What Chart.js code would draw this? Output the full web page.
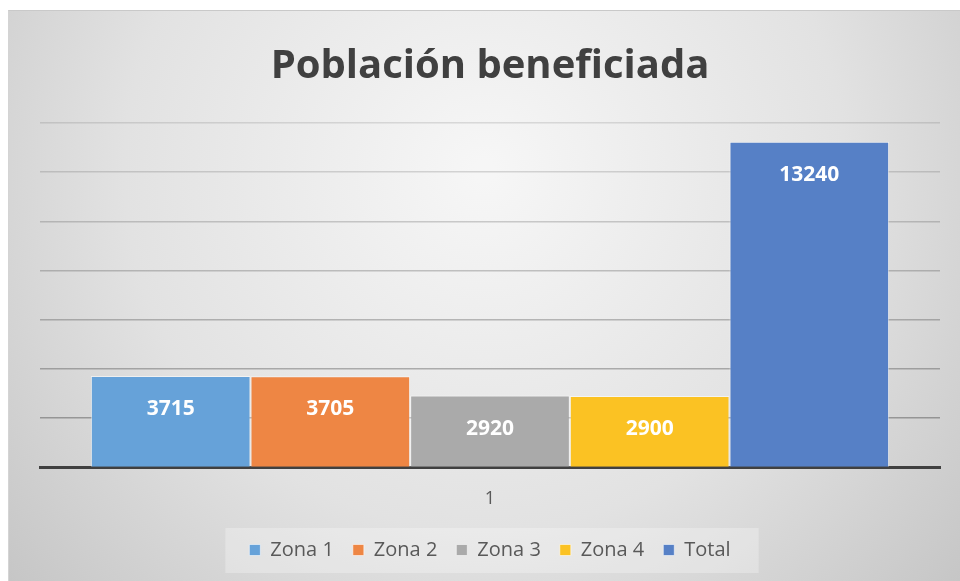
<!DOCTYPE html>
<html>
<head>
<meta charset="utf-8">
<script src="https://cdn.jsdelivr.net/npm/chart.js@4/dist/chart.umd.min.js"></script>
<style>
  html, body { margin: 0; padding: 0; background: #ffffff; }
  #card {
    position: absolute; left: 8px; top: 10px; width: 952px; height: 571px;
    border-top: 1px solid #c9c9c9; border-left: 1px solid #d4d4d4; box-sizing: border-box;
  }
</style>
</head>
<body>
<div id="card"><canvas id="myChart" width="951" height="570"></canvas></div>
<script>
// datos
var categorias = ['1'];
var series = ['Zona 1', 'Zona 2', 'Zona 3', 'Zona 4', 'Total'];
var valores = [3715, 3705, 2920, 2900, 13240];
var colores = ['#66a2d9', '#ee8644', '#aaaaaa', '#fbc223', '#5680c6'];

// fondo degradado + caja de la leyenda
var fondo = {
    id: 'fondo',
    beforeDraw: function(chart) {
        var c = chart.ctx, w = chart.width, h = chart.height;
        var g = c.createRadialGradient(w * 0.5, h * 0.28, 10, w * 0.5, h * 0.28, w * 0.68);
        g.addColorStop(0, '#f6f6f6');
        g.addColorStop(0.55, '#e2e2e2');
        g.addColorStop(1, '#c4c4c4');
        c.save();
        c.fillStyle = g;
        c.fillRect(0, 0, w, h);
        // caja clara detras de la leyenda
        var items = chart.legend.legendHitBoxes;
        if (items && items.length) {
            var x0 = items[0].left - 24;
            var last = items[items.length - 1];
            var x1 = last.left + last.width + 28;
            var yc = items[0].top + items[0].height / 2;
            c.fillStyle = 'rgba(255,255,255,0.28)';
            c.fillRect(x0, yc - 22, x1 - x0, 45);
        }
        c.restore();
    }
};

// etiquetas de valor dentro de las barras
var etiquetas = {
    id: 'etiquetas',
    afterDatasetsDraw: function(chart) {
        var c = chart.ctx;
        c.save();
        c.font = 'bold 21px "Open Sans"';
        c.fillStyle = '#ffffff';
        c.textAlign = 'center';
        c.textBaseline = 'middle';
        chart.data.datasets.forEach(function(ds, i) {
            var bar = chart.getDatasetMeta(i).data[0];
            c.fillText(ds.data[0], bar.x, bar.y + 33);
        });
        c.restore();
    }
};

var ctx = document.getElementById('myChart').getContext('2d');
var myChart = new Chart(ctx, {
    type: 'bar',
    data: {
        labels: categorias,
        datasets: series.map(function(nombre, i) {
            return {
                label: nombre,
                data: [valores[i]],
                backgroundColor: colores[i],
                borderColor: 'rgba(255,255,255,0.55)',
                borderWidth: 1,
                categoryPercentage: 0.887,
                barPercentage: 1
            };
        })
    },
    options: {
        responsive: false,
        animation: false,
        layout: { padding: { left: 31, right: 20, top: 0, bottom: 11 } },
        plugins: {
            title: {
                display: true,
                text: 'Población beneficiada',
                color: '#404040',
                font: { family: 'Open Sans', size: 40, weight: 'bold' },
                padding: { top: 32, bottom: 32 }
            },
            legend: {
                position: 'bottom',
                labels: {
                    color: '#595959',
                    font: { family: 'Open Sans', size: 20 },
                    boxWidth: 11,
                    boxHeight: 11,
                    padding: 19
                }
            },
            tooltip: { enabled: false }
        },
        scales: {
            x: {
                z: 1,
                grid: { display: false },
                border: { display: true, color: '#404040', width: 3 },
                ticks: { color: '#595959', font: { family: 'Open Sans', size: 18 }, padding: 13 },
                afterFit: function(s) { s.height -= 2; }
            },
            y: {
                min: 0,
                max: 14000,
                z: 1,
                border: { display: false },
                ticks: { display: false, stepSize: 2000 },
                grid: {
                    drawTicks: false,
                    lineWidth: 1.5,
                    color: function(c) {
                        var t = c.tick ? c.tick.value / 14000 : 0;
                        return 'rgba(60,60,60,' + (0.45 - 0.3 * t).toFixed(3) + ')';
                    }
                }
            }
        }
    },
    plugins: [fondo, etiquetas]
});
</script>
</body>
</html>
